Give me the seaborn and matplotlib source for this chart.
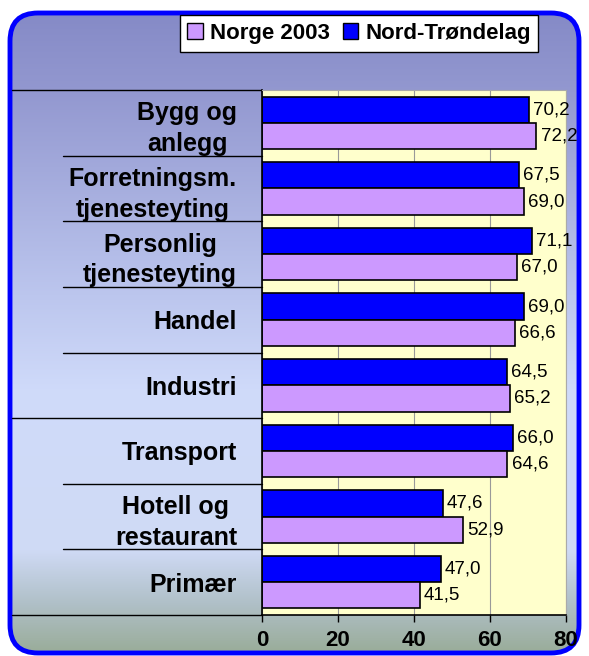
import numpy as np
import pandas as pd
import matplotlib.pyplot as plt
import matplotlib.transforms as mtransforms
from matplotlib.patches import FancyBboxPatch, Patch
import seaborn as sns

kategorier = ['Bygg og\nanlegg', 'Forretningsm.\ntjenesteyting', 'Personlig\ntjenesteyting',
              'Handel', 'Industri', 'Transport', 'Hotell og\nrestaurant', 'Primær']
nord_trondelag = [70.2, 67.5, 71.1, 69.0, 64.5, 66.0, 47.6, 47.0]
norge_2003 = [72.2, 69.0, 67.0, 66.6, 65.2, 64.6, 52.9, 41.5]
serier = ['Nord-Trøndelag', 'Norge 2003']
x_ticks = [0, 20, 40, 60, 80]

df = pd.DataFrame({
    'kategori': kategorier * 2,
    'verdi': nord_trondelag + norge_2003,
    'serie': [serier[0]] * len(kategorier) + [serier[1]] * len(kategorier),
})

sns.set_style('white')
plt.rcParams['font.family'] = ['Liberation Sans', 'DejaVu Sans']
plt.rcParams['text.color'] = 'black'
plt.rcParams['xtick.color'] = 'black'
plt.rcParams['ytick.color'] = 'black'

W, H = 589, 656
fig = plt.figure(figsize=(W / 100, H / 100), dpi=100)
fig.patch.set_facecolor('white')

# bakgrunn med gradient og avrundet blå ramme
bg = fig.add_axes([0, 0, 1, 1], zorder=-5)
bg.axis('off')
stops = np.array([0.0, 0.14, 0.45, 0.6, 0.84, 0.92, 1.0])
farger = np.array([[0x83, 0x88, 0xc5], [0x93, 0x98, 0xd0], [0xbc, 0xc6, 0xee],
                   [0xd0, 0xdb, 0xfa], [0xcf, 0xda, 0xf5], [0xb0, 0xc0, 0xc8],
                   [0x98, 0xab, 0x96]]) / 255
t = np.linspace(0, 1, 400)
grad = np.stack([np.interp(t, stops, farger[:, i]) for i in range(3)], axis=-1)[:, None, :]
ramme = FancyBboxPatch((0.10, 0.03), (W - 20) / 100, (H - 16) / 100,
                       boxstyle='round,pad=0,rounding_size=0.28',
                       transform=fig.dpi_scale_trans, facecolor='none',
                       edgecolor='#0000ff', lw=3.5, zorder=10)
bg.add_patch(ramme)
im = bg.imshow(grad, extent=[0, 1, 0, 1], aspect='auto', transform=bg.transAxes)
im.set_clip_path(ramme)
bg.set_xlim(0, 1)
bg.set_ylim(0, 1)

ax = fig.add_axes([262 / W, 1 - 615 / H, 304 / W, 525 / H])
ax.set_facecolor('#ffffcc')
sns.barplot(data=df, y='kategori', x='verdi', hue='serie', hue_order=serier,
            palette=['#0000ff', '#cc99ff'], saturation=1, width=0.8,
            edgecolor='black', linewidth=1.2, legend=False, ax=ax)

for cont in ax.containers:
    ax.bar_label(cont, labels=[f'{b.get_width():.1f}'.replace('.', ',') for b in cont],
                 padding=3, fontsize=13.5, color='black')

ax.set_xlim(0, 80)
ax.set_xticks(x_ticks)
ax.set_xticklabels([str(v) for v in x_ticks], fontsize=16, fontweight='bold')
ax.xaxis.grid(True, color='#999999', lw=0.8)
ax.set_axisbelow(True)
ax.tick_params(axis='x', direction='out', length=5, width=1, color='black', pad=6, bottom=True)
ax.tick_params(axis='y', length=0, pad=18)
for lbl in ax.get_yticklabels():
    lbl.set_fontsize(18)
    lbl.set_fontweight('bold')
    lbl.set_multialignment('center')
    lbl.set_linespacing(1.35)
ax.set_xlabel('')
ax.set_ylabel('')
for s in ['left', 'bottom']:
    ax.spines[s].set_color('black')
    ax.spines[s].set_linewidth(1.2)
for s in ['top', 'right']:
    ax.spines[s].set_color('#aaaaaa')
    ax.spines[s].set_linewidth(0.8)

# skillelinjer mellom kategoriene
blend = mtransforms.blended_transform_factory(ax.transAxes, ax.transData)
for i in range(len(kategorier) + 1):
    y = i - 0.5
    x0 = -0.822 if i in (0, 5, len(kategorier)) else -0.655
    ax.plot([x0, 0], [y, y], transform=blend, clip_on=False, color='black', lw=1)
ax.set_ylim(len(kategorier) - 0.5, -0.5)

handles = [Patch(facecolor='#cc99ff', edgecolor='black', label='Norge 2003'),
           Patch(facecolor='#0000ff', edgecolor='black', label='Nord-Trøndelag')]
leg = fig.legend(handles=handles, loc='center', bbox_to_anchor=(359 / W, 1 - 33.5 / H),
                 ncol=2, fancybox=False, framealpha=1, edgecolor='black',
                 prop={'size': 16, 'weight': 'bold'}, handlelength=0.7, handleheight=0.7,
                 handletextpad=0.3, columnspacing=0.6, borderpad=0.35)
leg.get_frame().set_linewidth(1)

fig.savefig('out.png', dpi=100)
